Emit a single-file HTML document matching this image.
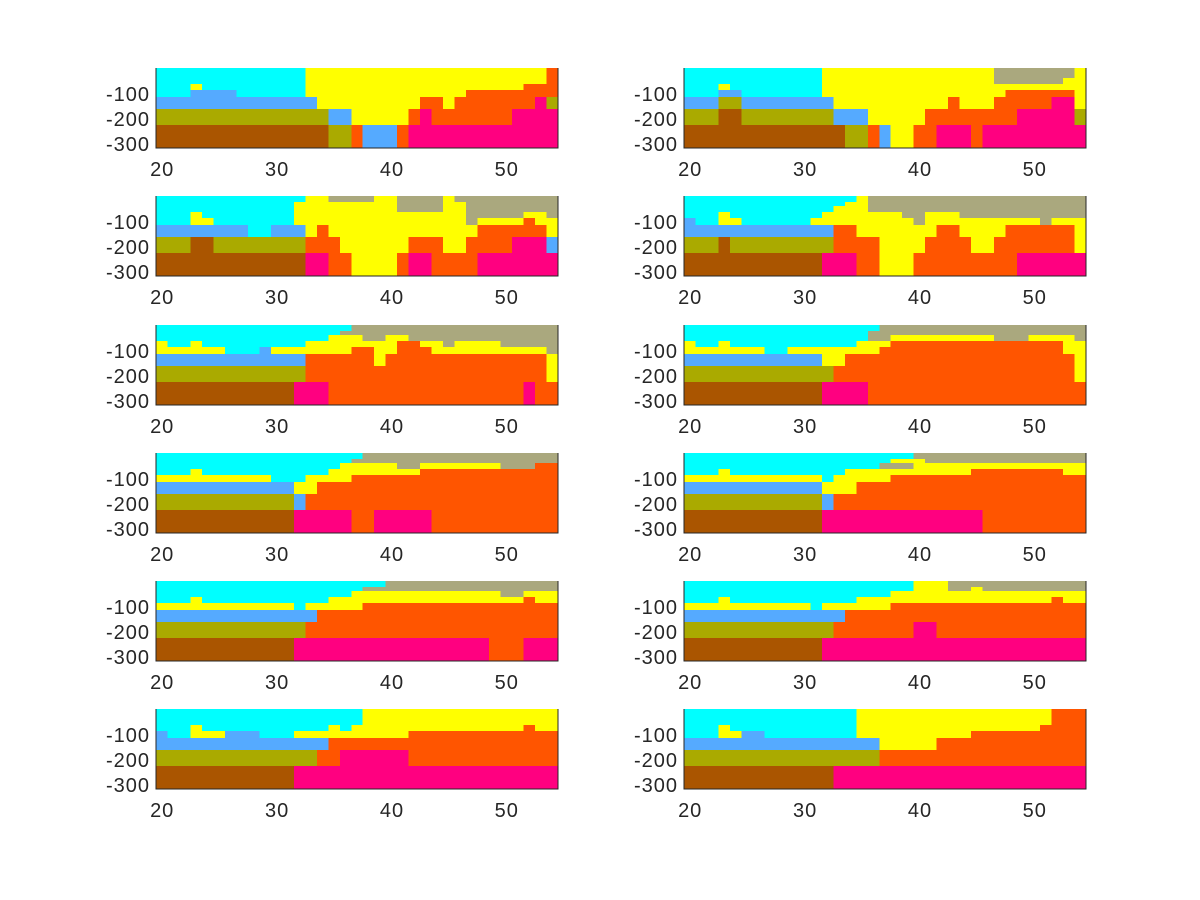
<!DOCTYPE html>
<html><head><meta charset="utf-8"><style>
html,body{margin:0;padding:0;background:#fff;}
svg{display:block;}
text{font-family:"Liberation Sans",sans-serif;font-size:20px;letter-spacing:1px;fill:#262626;}
</style></head><body>
<svg id="s" width="1200" height="900" viewBox="0 0 1200 900" xmlns="http://www.w3.org/2000/svg" shape-rendering="crispEdges"></svg>
<script>
var col={C:"#00FFFF",Y:"#FFFF00",G:"#AAA87E",B:"#55AAFF",O:"#AAAA00",N:"#AA5500",R:"#FF5500",P:"#FF0080"};
var L=[0,6,10,16,22,29,41,57,80];
var panels=[
["C13Y21R1","C13Y21R1","C13Y21R1","C3Y1C9Y19R3","C3B4C6Y14R8","B14Y9R2Y1R7P1O1","O15B2Y5R1P1R7P4","N15O2R1B3R1P13"],
["C12Y15G7Y1","C12Y15G7Y1","C12Y15G6Y2","C3Y1C8Y23","C3B2C7Y16R6Y1","B3O2B8Y10R1Y3R5P2Y1","O3N2O8B3Y5R8P5O1","N14O2R1B1Y2R2P3R1P9"],
["C13Y2G4Y2G4Y1G9","C12Y9G4Y2G8","C12Y9G4Y2G8","C3Y1C8Y15G5Y2G1","C3Y2C7Y15G1Y4R1Y2","B8C2B3Y1R1Y13R6Y1","O3N2O8R3Y6R3Y2R4P3B1","N13P2R2Y4R1P2R4P7"],
["C15Y1G19","C14Y2G19","C13Y3G19","C3Y1C8Y7G2Y3G11","B1C2Y2C6Y9G1Y10G1Y3","B13R2Y7R2Y4R6Y1","O3N1O9R4Y4R4Y2R7Y1","N12P3R2Y3R9P6"],
["C17G18","C16G19","C15Y3G2Y2G13","Y1C2Y1C9Y8R2Y2G1Y4G5","Y6C3B1Y7R2Y2R3Y10G1","B13R6Y1R14Y1","O13R21Y1","N12P3R17P1R2"],
["C17G18","C16G19","C16G2Y9G3Y4G1","Y1C2Y1C11Y3R15Y2","Y7C2Y8R16Y2","B12Y2R20Y1","O13R21Y1","N12P4R19"],
["C18G17","C17G18","C16Y5G2Y7G3R2","C3Y1C11Y8R12","Y10C3Y4R18","B12Y2R21","O12B1R22","N12P5R2P5R11"],
["C20G15","C18Y3G14","C17G3Y15","C3Y1C10Y11R8Y2","Y12C1Y5R17","B12Y3R20","O12B1R22","N12P14R9"],
["C20G15","C18G17","C17Y13G2Y3","C3Y1C11Y17R1Y2","Y12C1Y5R17","B14R21","O13R22","N12P17R3P3"],
["C20Y3G12","C20Y3G2Y1G9","C18Y17","C3Y1C11Y17R1Y2","Y11C1Y6R17","B14R21","O13R7P2R13","N12P23"],
["C18Y17","C18Y17","C18Y17","C3Y1C11Y1C1Y15R1Y2","B1C2Y3B3C3Y10R13","B15R20","O14R2P6R13","N12P23"],
["C15Y17R3","C15Y17R3","C15Y17R3","C3Y1C11Y16R4","C3Y2B2C8Y10R10","B17Y5R13","O17R18","N13P22"]
];
var tops=[68,196,325,453,581,709],lefts=[156,684],W=402,H=80,cw=W/35;
var out="";
for(var p=0;p<12;p++){
 var x0=lefts[p%2],y0=tops[Math.floor(p/2)];
 for(var l=0;l<8;l++){
  var re=/([A-Z])(\d+)/g,m,c=0;
  while((m=re.exec(panels[p][l]))){
   var n=+m[2];
   out+='<rect x="'+(x0+c*cw).toFixed(2)+'" y="'+(y0+L[l])+'" width="'+(n*cw+0.6).toFixed(2)+'" height="'+(L[l+1]-L[l])+'" fill="'+col[m[1]]+'"/>';
   c+=n;
  }
 }
 out+='<path d="M'+x0+' '+y0+'V'+(y0+H)+'H'+(x0+W)+'V'+y0+'" fill="none" stroke="#262626" stroke-width="1"/>';
 var yl=[[-100,26],[-200,51],[-300,76]];
 for(var i=0;i<3;i++) out+='<text x="'+(x0-6)+'" y="'+(y0+yl[i][1]+7)+'" text-anchor="end">'+yl[i][0]+'</text>';
 var xs=[20,30,40,50];
 for(var i=0;i<4;i++) out+='<text x="'+(x0+(xs[i]-19.5)*cw+0.5).toFixed(1)+'" y="'+(y0+H+28)+'" text-anchor="middle">'+xs[i]+'</text>';
}
document.getElementById("s").innerHTML=out;
</script>
</body></html>
